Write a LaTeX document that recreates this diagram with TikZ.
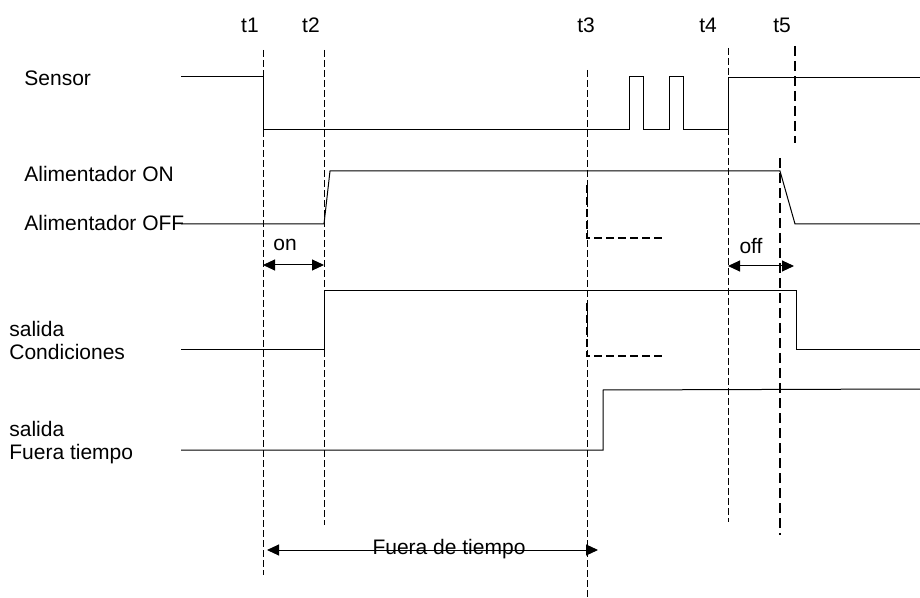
\documentclass[tikz,border=0pt]{standalone}
\usepackage{fontspec}
\setmainfont{Liberation Sans}
\usetikzlibrary{arrows.meta}
\begin{document}
\begin{tikzpicture}[x=0.5pt,y=-0.5pt,
  signal/.style={line width=0.5pt,line join=miter},
  marker/.style={line width=0.5pt,dash pattern=on 3.5pt off 1.5pt},
  boldmarker/.style={line width=1pt,dash pattern=on 5pt off 2.5pt},
  ghost/.style={line width=0.6pt,dash pattern=on 4pt off 2pt},
  interval/.style={line width=0.5pt,{Triangle[length=6pt,width=5.5pt]}-{Triangle[length=6pt,width=5.5pt]}},
  lbl/.style={font=\fontsize{10.5}{11.5}\selectfont,inner sep=0pt,anchor=base west},
  tlbl/.style={font=\fontsize{10.5}{11.5}\selectfont,inner sep=0pt,anchor=base}]
\useasboundingbox (0,0) rectangle (920,598);
\node[tlbl] (t1) at (250,33) {t1};
\node[tlbl] (t2) at (311,33) {t2};
\node[tlbl] (t3) at (586,33) {t3};
\node[tlbl] (t4) at (708,33) {t4};
\node[tlbl] (t5) at (782,33) {t5};
\coordinate (t1top) at (263,50);  \coordinate (t1bot) at (263,575);
\coordinate (t2top) at (324,50);  \coordinate (t2bot) at (324,525);
\coordinate (t3top) at (587,70);  \coordinate (t3bot) at (587,598);
\coordinate (t4top) at (728,48);  \coordinate (t4bot) at (728,522);
\coordinate (t5top) at (795,46);  \coordinate (t5mid) at (795,143);
\coordinate (t5low) at (780,158); \coordinate (t5bot) at (780,535);
\draw[marker] (t1top) -- (t1bot);
\draw[marker] (t2top) -- (t2bot);
\draw[marker] (t3top) -- (t3bot);
\draw[marker] (t4top) -- (t4bot);
\draw[boldmarker] (t5top) -- (t5mid);
\draw[boldmarker] (t5low) -- (t5bot);
\node[lbl] (sensor) at (24,86) {Sensor};
\node[lbl] (alon) at (24,182) {Alimentador ON};
\node[lbl] (aloff) at (24,231) {Alimentador OFF};
\node[lbl] (cond1) at (9,336) {salida};
\node[lbl] (cond2) at (9,359) {Condiciones};
\node[lbl] (fuera1) at (9,436) {salida};
\node[lbl] (fuera2) at (9,459) {Fuera tiempo};
\draw[signal] (181,77) -- (263,77) -- (263,130) -- (629,130) -- (629,77) -- (643,77) -- (643,130)
  -- (669,130) -- (669,77) -- (683,77) -- (683,130) -- (728,130) -- (728,78) -- (920,78);
\draw[signal] (181,224) -- (324,224) -- (330,171) -- (780,171) -- (795,224) -- (920,224);
\draw[signal] (181,350) -- (324,350) -- (324,291) -- (796,291) -- (796,350) -- (920,350);
\draw[signal] (181,450) -- (603,450) -- (603,390) -- (920,389);
\draw[ghost] (587,185) -- (587,238) -- (664,238);
\draw[ghost] (587,303) -- (587,356) -- (664,356);
\node[tlbl] (on) at (285,251) {on};
\node[tlbl] (off) at (751,254) {off};
\coordinate (onL) at (263,265);  \coordinate (onR) at (324,265);
\coordinate (offL) at (728,266); \coordinate (offR) at (794,266);
\draw[interval] (onL) -- (onR);
\draw[interval] (offL) -- (offR);
\node[tlbl] (fdt) at (449,554) {Fuera de tiempo};
\coordinate (fdtL) at (267,550); \coordinate (fdtR) at (598,550);
\draw[interval] (fdtL) -- (fdtR);
\end{tikzpicture}
\end{document}
